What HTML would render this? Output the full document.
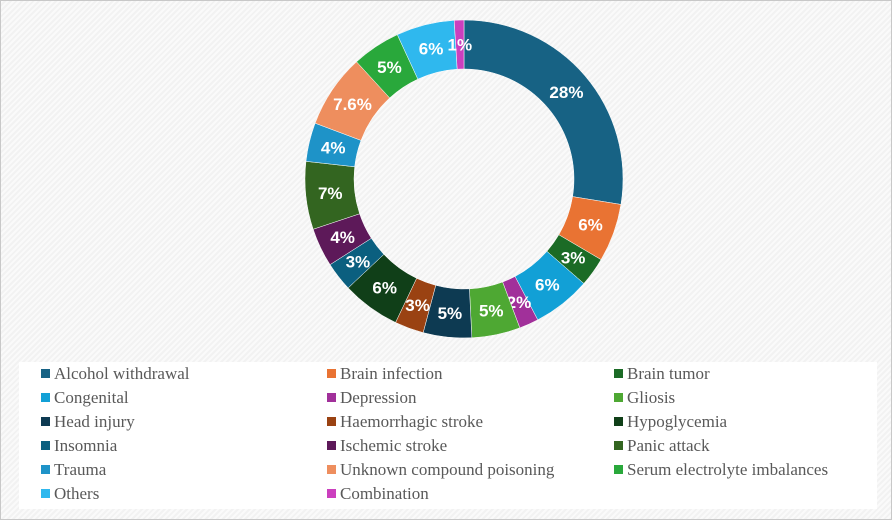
<!DOCTYPE html>
<html><head><meta charset="utf-8"><style>
body{margin:0;width:892px;height:520px;overflow:hidden;background:#fff}
#wrap{position:absolute;left:0;top:0;width:890px;height:518px;border:1px solid #c8c8c8;background:repeating-linear-gradient(135deg,#fafafa 0 2px,#f2f2f2 2px 4px)}
#legend{position:absolute;left:18px;top:361px;width:858px;height:147px;background:#fff}
.li{position:absolute;font:17px "Liberation Serif",serif;color:#595959;white-space:nowrap}
.li span{display:inline-block;width:9px;height:9px;margin-right:4px;vertical-align:1px}
</style></head><body>
<div id="wrap">
<svg id="chart" width="892" height="360" style="position:absolute;left:0;top:0"></svg>
<div id="legend"></div>
</div>
<script>
const categories=["Alcohol withdrawal","Brain infection","Brain tumor","Congenital","Depression","Gliosis","Head injury","Haemorrhagic stroke","Hypoglycemia","Insomnia","Ischemic stroke","Panic attack","Trauma","Unknown compound poisoning","Serum electrolyte imbalances","Others","Combination"];
const values=[28,6,3,6,2,5,5,3,6,3,4,7,4,7.6,5,6,1];
const labels=["28%","6%","3%","6%","2%","5%","5%","3%","6%","3%","4%","7%","4%","7.6%","5%","6%","1%"];
const colors=["#176284","#e97333","#1b6b26","#12a0d6","#a1309a","#4ea833","#0d3a52","#9a4212","#103f18","#0b5f7f","#5d1959","#336520","#1e93c8","#ee8e5e","#29a83b","#2fb8ee","#cb3fbe"];
const NS="http://www.w3.org/2000/svg",svg=document.getElementById('chart');
const cx=463,cy=178,R=159,r=110;
const total=values.reduce((a,b)=>a+b,0);
function pt(a,rad){return [cx+rad*Math.sin(a),cy-rad*Math.cos(a)];}
let acc=0;
values.forEach((v,i)=>{
 const a0=acc/total*2*Math.PI;acc+=v;const a1=acc/total*2*Math.PI;
 const lg=(a1-a0)>Math.PI?1:0;
 const [x0,y0]=pt(a0,R),[x1,y1]=pt(a1,R),[x2,y2]=pt(a1,r),[x3,y3]=pt(a0,r);
 const p=document.createElementNS(NS,'path');
 p.setAttribute('d',`M${x0} ${y0}A${R} ${R} 0 ${lg} 1 ${x1} ${y1}L${x2} ${y2}A${r} ${r} 0 ${lg} 0 ${x3} ${y3}Z`);
 p.setAttribute('fill',colors[i]);p.setAttribute('stroke','#fff');p.setAttribute('stroke-width','0.5');
 
 
 svg.appendChild(p);
 const [tx,ty]=pt((a0+a1)/2,(R+r)/2);
 const t=document.createElementNS(NS,'text');
 t.setAttribute('x',tx);t.setAttribute('y',ty+6);t.setAttribute('text-anchor','middle');
 t.setAttribute('font-family','Liberation Sans, sans-serif');t.setAttribute('font-weight','bold');t.setAttribute('font-size','17');t.setAttribute('fill','#fff');
 t.textContent=labels[i];
 
 
 svg.appendChild(t);
});
const lg=document.getElementById('legend');
categories.forEach((c,i)=>{
 const d=document.createElement('div');d.className='li';
 d.style.left=([22,308,595][i%3])+'px';d.style.top=(2+Math.floor(i/3)*24)+'px';
 d.innerHTML='<span style="background:'+colors[i]+'"></span>'+c;
 
 
 lg.appendChild(d);
});
</script>
</body></html>
